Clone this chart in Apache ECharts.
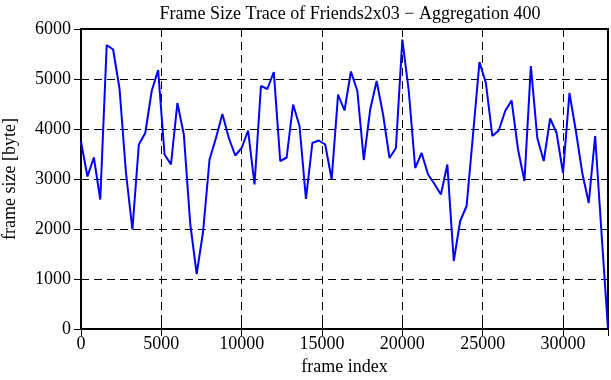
<!DOCTYPE html>
<html>
<head>
<meta charset="utf-8">
<script src="https://cdn.jsdelivr.net/npm/echarts@6/dist/echarts.min.js"></script>
<style>
  html, body { margin: 0; padding: 0; background: #fff; }
  #main { width: 611px; height: 380px; }
</style>
</head>
<body>
<div id="main"></div>
<script>
// frame index (aggregation of 400 frames)
var frameIndex = [
  0, 400, 800, 1200, 1600, 2000, 2400, 2800, 3200, 3600,
  4000, 4400, 4800, 5200, 5600, 6000, 6400, 6800, 7200, 7600,
  8000, 8400, 8800, 9200, 9600, 10000, 10400, 10800, 11200, 11600,
  12000, 12400, 12800, 13200, 13600, 14000, 14400, 14800, 15200, 15600,
  16000, 16400, 16800, 17200, 17600, 18000, 18400, 18800, 19200, 19600,
  20000, 20400, 20800, 21200, 21600, 22000, 22400, 22800, 23200, 23600,
  24000, 24400, 24800, 25200, 25600, 26000, 26400, 26800, 27200, 27600,
  28000, 28400, 28800, 29200, 29600, 30000, 30400, 30800, 31200, 31600,
  32000, 32400, 32800
]
// frame size [byte]
var frameSize = [
  3750, 3050, 3430, 2590, 5680, 5590, 4800, 3120, 1990, 3690,
  3920, 4760, 5180, 3490, 3290, 4520, 3890, 2100, 1100, 1950,
  3390, 3820, 4300, 3820, 3470, 3620, 3970, 2890, 4860, 4800,
  5140, 3360, 3430, 4490, 4060, 2600, 3720, 3770, 3690, 2990,
  4690, 4370, 5150, 4760, 3380, 4390, 4960, 4290, 3420, 3620,
  5790, 4760, 3220, 3520, 3090, 2900, 2690, 3290, 1360, 2160,
  2460, 3890, 5340, 4920, 3860, 3970, 4360, 4570, 3590, 2960,
  5260, 3820, 3360, 4210, 3920, 3120, 4720, 3960, 3120, 2520,
  3860, 1900, 0
]
var xTicks = [0, 5000, 10000, 15000, 20000, 25000, 30000]
var yTicks = [0, 1000, 2000, 3000, 4000, 5000, 6000]

var font = 'Liberation Serif'
var points = []
for (let i = 0; i < frameIndex.length; i++) {
  points.push([frameIndex[i], frameSize[i]])
}

var myChart = echarts.init(document.getElementById('main'))

var dashed = { show: true, lineStyle: { color: '#000', width: 1, type: [8, 5] } }
var tick = { show: true, inside: true, length: 7, lineStyle: { color: '#000', width: 1 } }
var label = { color: '#000', fontFamily: font, fontSize: 18 }

var option = {
  backgroundColor: '#fff',
  animation: false,
  title: {
    text: 'Frame Size Trace of Friends2x03 \u2212 Aggregation 400',
    left: 345,
    textAlign: 'center',
    top: 0,
    textStyle: { color: '#000', fontFamily: font, fontSize: 18, fontWeight: 'normal' }
  },
  grid: {
    left: 81, right: 3, top: 29, bottom: 51,
    containLabel: false, outerBoundsMode: 'none',
    show: true, borderColor: '#000', borderWidth: 2, backgroundColor: 'transparent'
  },
  xAxis: [
    {
      type: 'value', min: 0, max: frameIndex[frameIndex.length - 1], interval: xTicks[1] - xTicks[0],
      name: 'frame index', nameLocation: 'middle', nameGap: 29,
      nameTextStyle: { color: '#000', fontFamily: font, fontSize: 18 },
      axisLine: { show: false },
      axisTick: tick,
      axisLabel: Object.assign({
        margin: 6, showMaxLabel: false,
        formatter: function (v) { return xTicks.indexOf(v) >= 0 ? String(v) : '' }
      }, label),
      splitLine: dashed
    },
    {
      type: 'value', position: 'top', min: 0, max: frameIndex[frameIndex.length - 1], interval: xTicks[1] - xTicks[0],
      axisLine: { show: false },
      axisTick: tick,
      axisLabel: { show: false },
      splitLine: { show: false }
    }
  ],
  yAxis: [
    {
      type: 'value', min: yTicks[0], max: yTicks[yTicks.length - 1], interval: yTicks[1] - yTicks[0],
      name: 'frame size [byte]', nameLocation: 'middle', nameGap: 62,
      nameTextStyle: { color: '#000', fontFamily: font, fontSize: 18 },
      axisLine: { show: false },
      axisTick: tick,
      axisLabel: Object.assign({ margin: 10, formatter: function (v) { return String(v) } }, label),
      splitLine: dashed
    },
    {
      type: 'value', position: 'right', min: yTicks[0], max: yTicks[yTicks.length - 1], interval: yTicks[1] - yTicks[0],
      axisLine: { show: false },
      axisTick: tick,
      axisLabel: { show: false },
      splitLine: { show: false }
    }
  ],
  series: [
    {
      type: 'line',
      data: points,
      showSymbol: false,
      symbol: 'none',
      lineStyle: { color: '#0000ff', width: 2 },
      clip: true
    }
  ]
}

myChart.setOption(option, true)
</script>
</body>
</html>
